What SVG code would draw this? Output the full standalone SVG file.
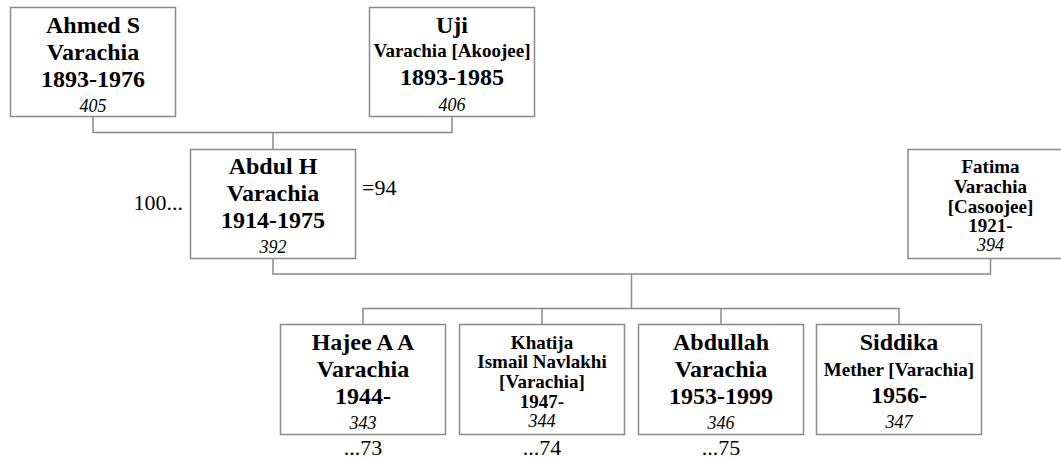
<svg xmlns="http://www.w3.org/2000/svg" width="1061" height="459" viewBox="0 0 1061 459">
<style>
  text { font-family: "Liberation Serif", "Times New Roman", serif; fill: #000; text-anchor: middle; }
  .box { fill: #fff; stroke: #8a8a8a; stroke-width: 1.5; }
  .conn { fill: none; stroke: #8a8a8a; stroke-width: 1.5; }
  .b { font-weight: bold; font-size: 24px; }
  .s { font-weight: bold; font-size: 19px; }
  .n { font-style: italic; font-size: 18px; }
  .r { font-size: 22px; }
</style>
<rect width="1061" height="459" fill="#fff"/>
<g id="connectors">
  <path class="conn" d="M93,116.5 V132.5 H452 V116.5"/>
  <path class="conn" d="M273,132.5 V149.5"/>
  <path class="conn" d="M273,258.5 V274 H990.5 V258.5"/>
  <path class="conn" d="M631.5,274 V308.5"/>
  <path class="conn" d="M363,324.5 V308.5 H899 V324.5"/>
  <path class="conn" d="M542,308.5 V324.5"/>
  <path class="conn" d="M721,308.5 V324.5"/>
</g>
<g id="ahmed">
  <rect class="box" x="10.5" y="7.5" width="165" height="109"/>
  <text class="b" x="93" y="33">Ahmed S</text>
  <text class="b" x="93" y="60">Varachia</text>
  <text class="b" x="93" y="87">1893-1976</text>
  <text class="n" x="93" y="112">405</text>
</g>
<g id="uji">
  <rect class="box" x="369.5" y="7.5" width="165" height="109"/>
  <text class="b" x="452" y="33">Uji</text>
  <text class="s" x="452" y="57">Varachia [Akoojee]</text>
  <text class="b" x="452" y="85">1893-1985</text>
  <text class="n" x="452" y="111">406</text>
</g>
<g id="abdul">
  <rect class="box" x="190.5" y="149.5" width="165" height="109"/>
  <text class="b" x="273" y="174">Abdul H</text>
  <text class="b" x="273" y="201">Varachia</text>
  <text class="b" x="273" y="228">1914-1975</text>
  <text class="n" x="273" y="253">392</text>
  <text class="r" x="183" y="210" style="text-anchor:end">100...</text>
  <text class="r" x="362" y="195" style="text-anchor:start">=94</text>
</g>
<g id="fatima">
  <rect class="box" x="908" y="149.5" width="165" height="109"/>
  <text class="s" x="990.5" y="173">Fatima</text>
  <text class="s" x="990.5" y="193">Varachia</text>
  <text class="s" x="990.5" y="212.5">[Casoojee]</text>
  <text class="s" x="990.5" y="232">1921-</text>
  <text class="n" x="990.5" y="251">394</text>
</g>
<g id="hajee">
  <rect class="box" x="280.5" y="324.5" width="165" height="110"/>
  <text class="b" x="363" y="349.5">Hajee A A</text>
  <text class="b" x="363" y="376.5">Varachia</text>
  <text class="b" x="363" y="403.5">1944-</text>
  <text class="n" x="363" y="428.5">343</text>
  <text class="r" x="363" y="455">...73</text>
</g>
<g id="khatija">
  <rect class="box" x="459.5" y="324.5" width="165" height="110"/>
  <text class="s" x="542" y="348.5">Khatija</text>
  <text class="s" x="542" y="368">Ismail Navlakhi</text>
  <text class="s" x="542" y="388">[Varachia]</text>
  <text class="s" x="542" y="407.5">1947-</text>
  <text class="n" x="542" y="427">344</text>
  <text class="r" x="542" y="455">...74</text>
</g>
<g id="abdullah">
  <rect class="box" x="638.5" y="324.5" width="165" height="110"/>
  <text class="b" x="721" y="349.5">Abdullah</text>
  <text class="b" x="721" y="376.5">Varachia</text>
  <text class="b" x="721" y="403.5">1953-1999</text>
  <text class="n" x="721" y="428.5">346</text>
  <text class="r" x="721" y="455">...75</text>
</g>
<g id="siddika">
  <rect class="box" x="816.5" y="324.5" width="165" height="110"/>
  <text class="b" x="899" y="349.5">Siddika</text>
  <text class="s" x="899" y="376">Mether [Varachia]</text>
  <text class="b" x="899" y="402.5">1956-</text>
  <text class="n" x="899" y="428">347</text>
</g>
</svg>
